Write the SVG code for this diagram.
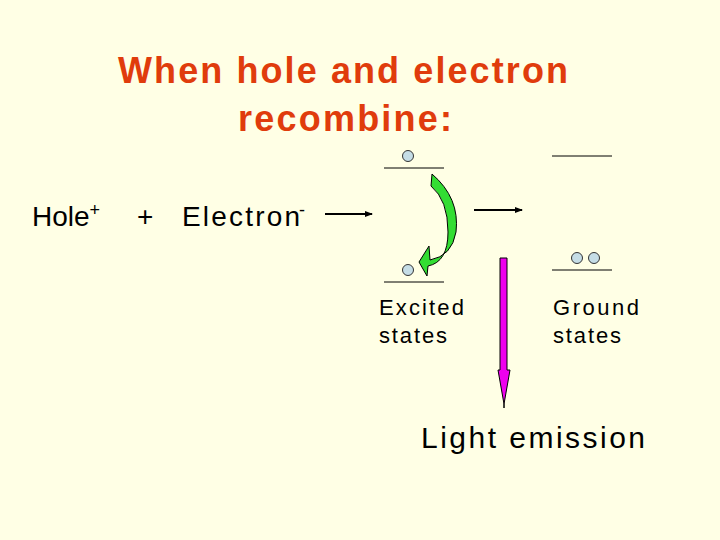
<svg xmlns="http://www.w3.org/2000/svg" width="720" height="540" viewBox="0 0 720 540">
<defs>
<style>
.t{font-family:"Liberation Sans",Arial,sans-serif;}
.lvl{stroke:#000;stroke-width:1;}
.dot{fill:#c5dde6;stroke:#333;stroke-width:1;}
</style>
<marker id="ah" markerWidth="8" markerHeight="6" refX="7" refY="3" orient="auto" markerUnits="userSpaceOnUse"><path d="M0,0 L8,3 L0,6 Z" fill="#000"/></marker>
</defs>
<rect width="720" height="540" fill="#ffffe5"/>
<g id="title"><text class="t" x="118" y="83" font-size="36" font-weight="bold" fill="#e03c0c" textLength="450">When hole and electron</text>
<text class="t" x="238" y="131" font-size="36" font-weight="bold" fill="#e03c0c" textLength="214">recombine:</text></g>
<g id="equation"><text class="t" x="32" y="226" font-size="28">Hole<tspan font-size="18" dy="-10">+</tspan></text>
<text class="t" x="137" y="226" font-size="28">+</text>
<text class="t" x="182" y="226" font-size="28" textLength="118">Electron</text>
<text class="t" x="299" y="216" font-size="18">-</text></g>
<g id="excited">
<line class="lvl" x1="384" y1="168" x2="444" y2="168"/>
<circle class="dot" cx="408" cy="156" r="5.5"/>
<line class="lvl" x1="384" y1="282" x2="444" y2="282"/>
<circle class="dot" cx="408" cy="270" r="5.5"/>
<text class="t" x="379" y="315" font-size="22" textLength="85">Excited</text>
<text class="t" x="379" y="343" font-size="22" textLength="68">states</text>
</g>
<g id="ground">
<line class="lvl" x1="552" y1="156" x2="612" y2="156"/>
<line class="lvl" x1="552" y1="270" x2="612" y2="270"/>
<circle class="dot" cx="577" cy="258" r="5.5"/>
<circle class="dot" cx="594" cy="258" r="5.5"/>
<text class="t" x="553" y="315" font-size="22" textLength="86">Ground</text>
<text class="t" x="553" y="343" font-size="22" textLength="68">states</text>
</g>
<g id="emission"><text class="t" x="421" y="448" font-size="30" textLength="224">Light emission</text></g>
<g id="connectors">
<line x1="325" y1="214" x2="372" y2="214" stroke="#000" stroke-width="2" marker-end="url(#ah)"/>
<line x1="474" y1="210" x2="522" y2="210" stroke="#000" stroke-width="2" marker-end="url(#ah)"/>
<path d="M432,174 Q460,198 456,232 Q452,256 430,260 L429,246 L419,262 L427,276 L428,266 Q448,262 448,232 Q448,200 431,186 Z" fill="#33dd33" stroke="#000" stroke-width="1"/>
<path d="M500,258 H507 V370 H510 L504,404 L498,370 H500 Z" fill="#ee00ee" stroke="#000" stroke-width="1"/>
<line x1="504" y1="404" x2="504" y2="408" stroke="#000" stroke-width="1.5"/>
</g>
</svg>
